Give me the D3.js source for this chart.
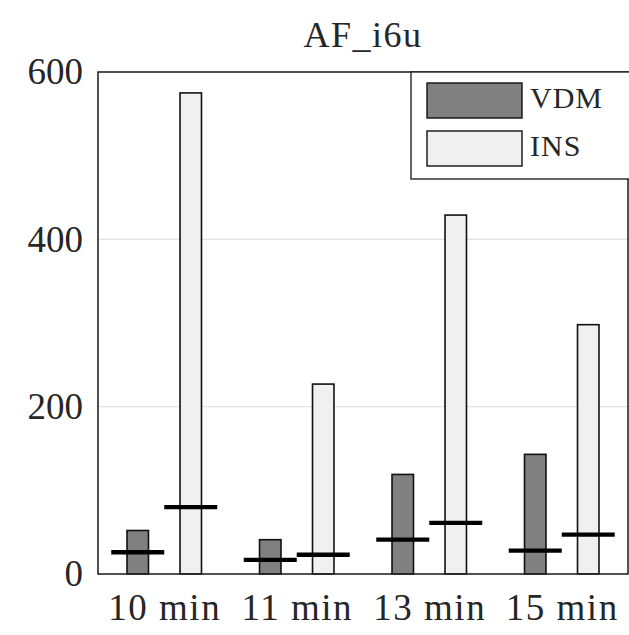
<!DOCTYPE html>
<html>
<head>
<meta charset="utf-8">
<script src="https://cdn.jsdelivr.net/npm/d3@7"></script>
<style>
  body { margin: 0; background: #fff; }
  text { font-family: "Liberation Serif", "DejaVu Serif", serif; fill: #262626; }
</style>
</head>
<body>
<div class="chart"></div>
<script>
// Grouped bars with median markers
var categories = ["10 min", "11 min", "13 min", "15 min"];
var seriesNames = ["VDM", "INS"];
var vdmValues = [52, 41, 119, 143];
var insValues = [575, 227, 429, 298];
var vdmMedian = [26, 17, 41, 28];
var insMedian = [80, 23, 61, 47];
var yTicks = [0, 200, 400, 600];

var svgWidth = 629;
var svgHeight = 635;

var margin = { top: 72, right: 1, bottom: 61, left: 98 };
var width = svgWidth - margin.left - margin.right;
var height = svgHeight - margin.top - margin.bottom;

var svg = d3.select(".chart")
  .append("svg")
  .attr("width", svgWidth)
  .attr("height", svgHeight);

var chartGroup = svg.append("g")
  .attr("transform", `translate(${margin.left}, ${margin.top})`);

// categories sit at 1..n, axis runs half a slot either side
var xScale = d3.scaleLinear()
  .domain([0.5, categories.length + 0.5])
  .range([0, width]);

var yScale = d3.scaleLinear()
  .domain([0, 600])
  .range([height, 0]);

var offset = 0.2;
var barW = xScale(0.162) - xScale(0);
var medW = xScale(0.4) - xScale(0);

// build one row per bar
var bars = [];
categories.forEach(function (c, i) {
  bars.push({ cat: c, x: i + 1 - offset, value: vdmValues[i], median: vdmMedian[i], fill: "#808080" });
  bars.push({ cat: c, x: i + 1 + offset, value: insValues[i], median: insMedian[i], fill: "#f0f0f0" });
});

// gridlines
chartGroup.append("g")
  .selectAll("line")
  .data(yTicks.filter(d => d > 0 && d < 600))
  .enter()
  .append("line")
  .attr("x1", 0)
  .attr("x2", width)
  .attr("y1", d => yScale(d))
  .attr("y2", d => yScale(d))
  .attr("stroke", "#e3e3e3")
  .attr("stroke-width", 1.2);

// bars
chartGroup.selectAll("rect.bar")
  .data(bars)
  .enter()
  .append("rect")
  .attr("class", "bar")
  .attr("x", d => xScale(d.x) - barW / 2)
  .attr("y", d => yScale(d.value))
  .attr("width", barW)
  .attr("height", d => yScale(0) - yScale(d.value))
  .attr("fill", d => d.fill)
  .attr("stroke", "#111")
  .attr("stroke-width", 1.6);

// median markers
chartGroup.selectAll("line.median")
  .data(bars)
  .enter()
  .append("line")
  .attr("class", "median")
  .attr("x1", d => xScale(d.x) - medW / 2)
  .attr("x2", d => xScale(d.x) + medW / 2)
  .attr("y1", d => yScale(d.median))
  .attr("y2", d => yScale(d.median))
  .attr("stroke", "#000")
  .attr("stroke-width", 4.3);

// axes
var bottomAxis = d3.axisBottom(xScale)
  .tickValues(d3.range(1, categories.length + 1))
  .tickFormat(d => categories[d - 1])
  .tickSize(0)
  .tickPadding(20);

var leftAxis = d3.axisLeft(yScale)
  .tickValues(yTicks)
  .tickSize(0)
  .tickPadding(15);

var xAxis = chartGroup.append("g")
  .attr("transform", `translate(0, ${height})`)
  .call(bottomAxis);

var yAxis = chartGroup.append("g")
  .call(leftAxis);

xAxis.selectAll("text")
  .attr("font-size", "37px")
  .attr("letter-spacing", "1.5px")
  .attr("dy", "0.7em");
yAxis.selectAll("text")
  .attr("font-size", "37px");
xAxis.select(".domain").remove();
yAxis.select(".domain").remove();
[xAxis, yAxis].forEach(function (a) {
  a.selectAll("text").style("font-family", "Liberation Serif").attr("fill", "#262626");
});

// box around plot
chartGroup.append("rect")
  .attr("x", 0)
  .attr("y", 0)
  .attr("width", width)
  .attr("height", height)
  .attr("fill", "none")
  .attr("stroke", "#262626")
  .attr("stroke-width", 1.6);

// title
svg.append("text")
  .attr("x", margin.left + width / 2)
  .attr("y", 47)
  .attr("text-anchor", "middle")
  .attr("font-size", "36px")
  .attr("letter-spacing", "1.5px")
  .attr("fill", "#111")
  .text("AF_i6u");

// legend
var legend = svg.append("g")
  .attr("transform", "translate(411, 72)");

legend.append("rect")
  .attr("width", 220)
  .attr("height", 107)
  .attr("fill", "#fff")
  .attr("stroke", "#262626")
  .attr("stroke-width", 1.4);

var legendFills = ["#808080", "#f0f0f0"];
var legendItems = legend.selectAll("g.item")
  .data(seriesNames)
  .enter()
  .append("g")
  .attr("class", "item")
  .attr("transform", (d, i) => `translate(16, ${11 + i * 48})`);

legendItems.append("rect")
  .attr("width", 95)
  .attr("height", 35)
  .attr("fill", (d, i) => legendFills[i])
  .attr("stroke", "#111")
  .attr("stroke-width", 1.4);

legendItems.append("text")
  .attr("x", 103)
  .attr("y", 25)
  .attr("font-size", "30px")
  .attr("letter-spacing", "1px")
  .attr("fill", "#111")
  .text(d => d);
</script>
</body>
</html>
